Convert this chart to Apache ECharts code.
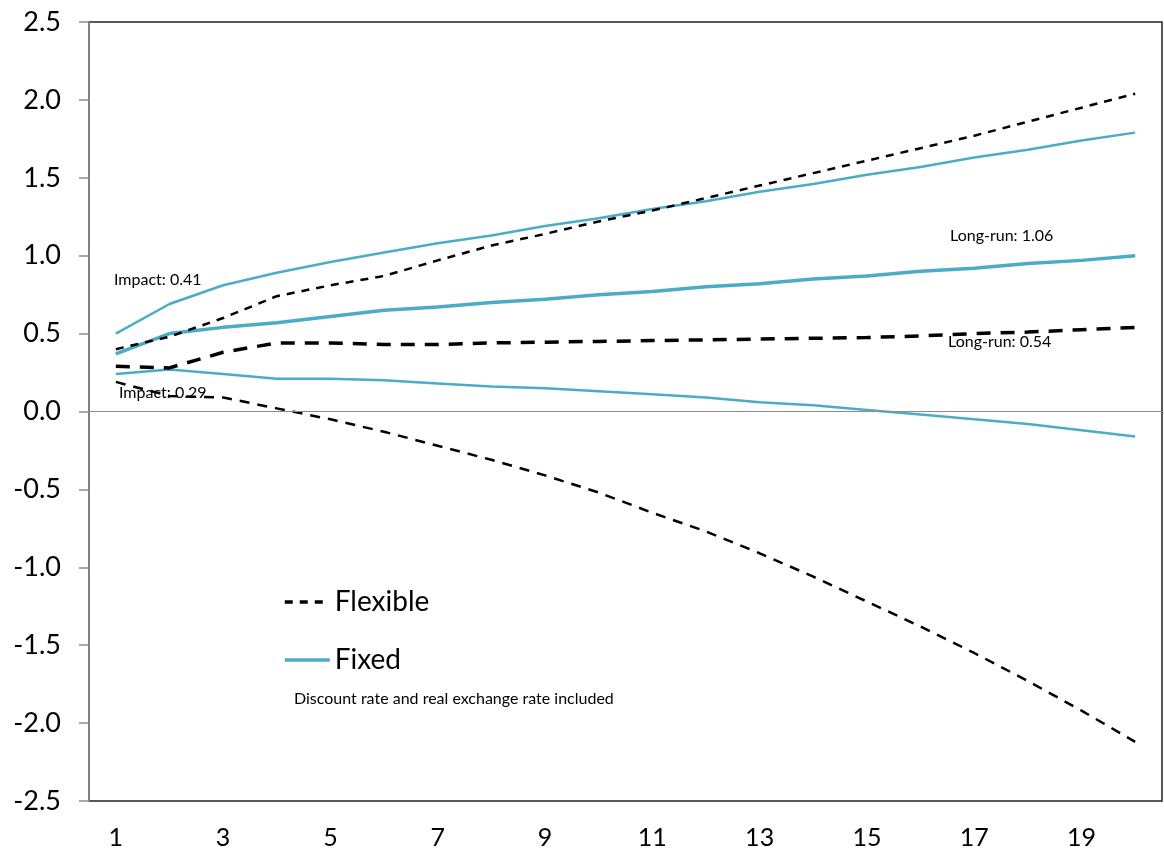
<!DOCTYPE html>
<html>
<head>
<meta charset="utf-8">
<script src="https://cdn.jsdelivr.net/npm/echarts@6/dist/echarts.min.js"></script>
<style>
html,body{margin:0;padding:0;background:#fff;}
#chart{width:1164px;height:857px;}
</style>
</head>
<body>
<div id="chart"></div>
<script>
var categories = ['1','2','3','4','5','6','7','8','9','10','11','12','13','14','15','16','17','18','19','20'];
var yTicks = [-2.5,-2.0,-1.5,-1.0,-0.5,0.0,0.5,1.0,1.5,2.0,2.5];

var flexibleUpper = [0.40,0.48,0.60,0.74,0.81,0.87,0.97,1.065,1.14,1.22,1.29,1.37,1.45,1.53,1.61,1.69,1.77,1.86,1.95,2.04];
var flexibleMid   = [0.29,0.28,0.38,0.44,0.44,0.43,0.43,0.44,0.445,0.45,0.455,0.46,0.465,0.47,0.475,0.485,0.50,0.51,0.525,0.54];
var flexibleLower = [0.19,0.10,0.09,0.02,-0.05,-0.13,-0.22,-0.31,-0.41,-0.52,-0.65,-0.77,-0.91,-1.06,-1.22,-1.38,-1.55,-1.73,-1.92,-2.12];

var fixedUpper = [0.50,0.69,0.81,0.89,0.96,1.02,1.08,1.13,1.19,1.24,1.30,1.35,1.41,1.46,1.52,1.57,1.63,1.68,1.74,1.79];
var fixedMid   = [0.37,0.50,0.54,0.57,0.61,0.65,0.67,0.70,0.72,0.75,0.77,0.80,0.82,0.85,0.87,0.90,0.92,0.95,0.97,1.00];
var fixedLower = [0.24,0.27,0.24,0.21,0.21,0.20,0.18,0.16,0.15,0.13,0.11,0.09,0.06,0.04,0.01,-0.02,-0.05,-0.08,-0.12,-0.16];

var annotations = ['Impact: 0.41','Impact: 0.29','Long-run: 1.06','Long-run: 0.54'];
var legendNames = ['Flexible','Fixed'];
var noteText = 'Discount rate and real exchange rate included';

var BLUE = '#4bacc6';
var FONT = 'Lato, "Open Sans", sans-serif';

function lineSeries(name, data, color, width, dash) {
  return {
    name: name,
    type: 'line',
    data: data,
    symbol: 'none',
    showSymbol: false,
    smooth: false,
    silent: true,
    lineStyle: {
      color: color,
      width: width,
      type: dash ? dash : 'solid',
      cap: 'butt'
    },
    itemStyle: { color: color, opacity: 0 },
    z: dash ? 3 : 2
  };
}

var chart = echarts.init(document.getElementById('chart'));
var series = [
  lineSeries('Flexible', flexibleUpper, '#000', 2.5, [8, 7]),
  lineSeries('Flexible', flexibleMid, '#000', 3.5, [14, 10]),
  lineSeries('Flexible', flexibleLower, '#000', 2.5, [10, 8]),
  lineSeries('Fixed', fixedUpper, BLUE, 2.5, null),
  lineSeries('Fixed', fixedMid, BLUE, 3.5, null),
  lineSeries('Fixed', fixedLower, BLUE, 2.5, null)
];
series[3].markLine = {
  silent: true,
  symbol: 'none',
  label: { show: false },
  lineStyle: { color: '#8c8c8c', width: 1, type: 'solid' },
  data: [{ yAxis: 0 }]
};

chart.setOption({
  animation: false,
  backgroundColor: '#fff',
  grid: {
    left: 89, right: 2, top: 22, bottom: 56,
    show: true,
    borderColor: '#222',
    borderWidth: 1.5,
    backgroundColor: 'transparent'
  },
  legend: {
    data: legendNames,
    orient: 'vertical',
    left: 283,
    top: 588,
    padding: 0,
    itemWidth: 45,
    itemHeight: 14,
    itemGap: 30,
    itemStyle: { opacity: 0 },
    lineStyle: { width: 3.5 },
    textStyle: { fontFamily: FONT, fontSize: 28, lineHeight: 28, color: '#000' },
    selectedMode: false
  },
  xAxis: {
    type: 'category',
    data: categories,
    boundaryGap: true,
    axisLine: { show: false },
    axisTick: { show: false },
    axisLabel: {
      interval: 1,
      fontFamily: FONT,
      fontSize: 25,
      color: '#000',
      margin: 24
    },
    splitLine: { show: false }
  },
  yAxis: {
    type: 'value',
    min: yTicks[0],
    max: yTicks[yTicks.length - 1],
    interval: 0.5,
    axisLine: { show: true, lineStyle: { color: '#8c8c8c', width: 1.5 } },
    axisTick: { show: true, inside: false, length: 10, lineStyle: { color: '#8c8c8c', width: 1.5 } },
    axisLabel: {
      fontFamily: FONT,
      fontSize: 27,
      color: '#000',
      margin: 28,
      formatter: function (v) { return v.toFixed(1); }
    },
    splitLine: { show: false }
  },
  graphic: [
    { type: 'text', left: 114, top: 272, style: { text: annotations[0], font: '16px ' + FONT, fill: '#000' } },
    { type: 'text', left: 119, top: 385, style: { text: annotations[1], font: '16px ' + FONT, fill: '#000' } },
    { type: 'text', left: 950, top: 228, style: { text: annotations[2], font: '16px ' + FONT, fill: '#000' } },
    { type: 'text', left: 948, top: 334, style: { text: annotations[3], font: '16px ' + FONT, fill: '#000' } },
    { type: 'text', left: 294, top: 691, style: { text: noteText, font: '16px ' + FONT, fill: '#000' } }
  ],
  series: series
});
</script>
</body>
</html>
